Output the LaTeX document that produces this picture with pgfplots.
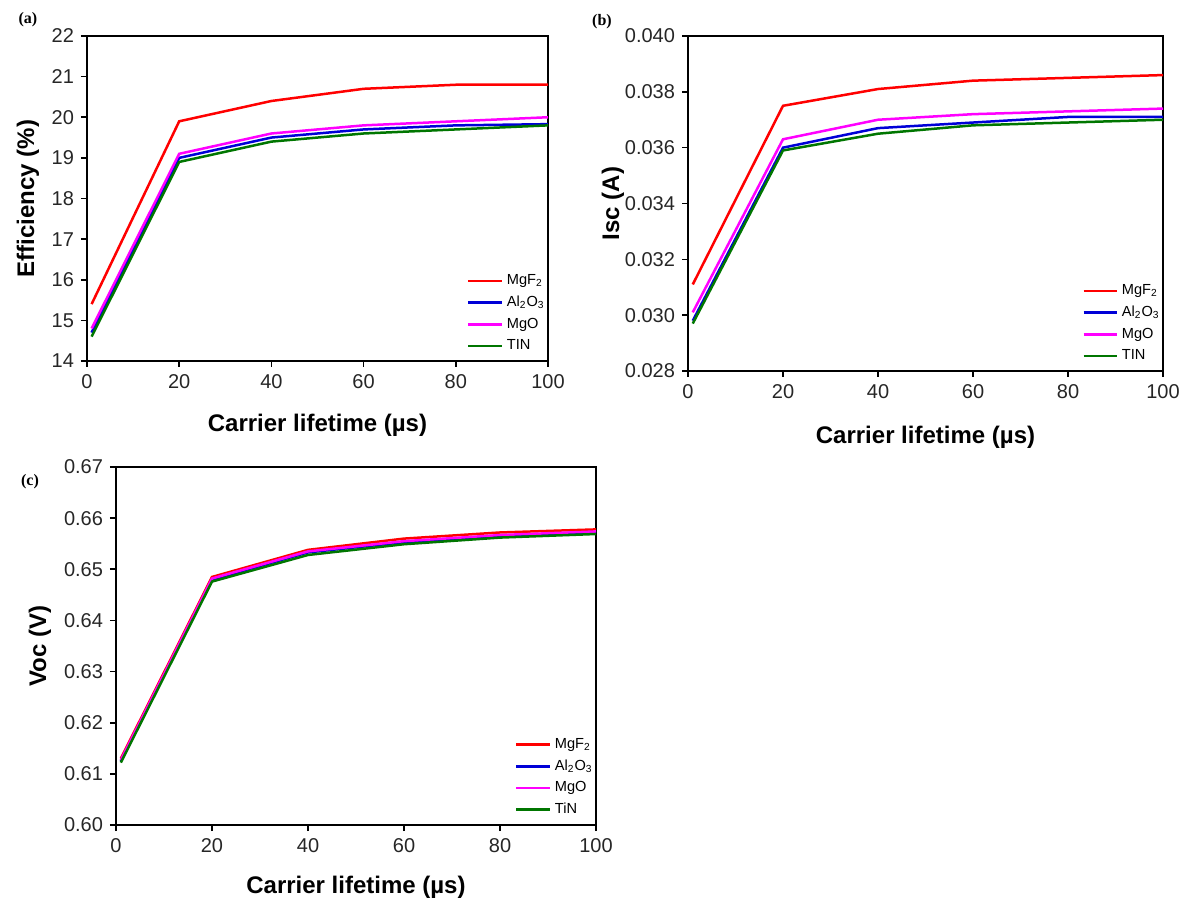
\documentclass[border=0pt]{standalone}
\usepackage{fontspec}
\setmainfont{Liberation Sans}
\newfontfamily\serifbf{Liberation Serif}
\usepackage{pgfplots}
\pgfplotsset{compat=1.18}
\definecolor{cred}{RGB}{255,0,0}
\definecolor{cblue}{RGB}{0,0,215}
\definecolor{cmag}{RGB}{255,0,255}
\definecolor{cgreen}{RGB}{0,118,0}
\pgfplotsset{
  myax/.style={
    scale only axis,
    axis line style={line width=0.9pt},
    tick align=outside, tick pos=left,
    major tick length=3pt,
    every tick/.style={line width=0.8pt, black},
    xmin=0, xmax=100, xtick={0,20,...,100},
    tick label style={font=\fontsize{10}{12}\selectfont, text=black!85},
    /pgf/number format/assume math mode=true,
    label style={font=\fontsize{12}{14}\selectfont\bfseries},
    legend style={draw=none, fill=none, font=\fontsize{7.3}{9}\selectfont,
      at={(1,0)}, anchor=south east, xshift=1.5pt, yshift=1pt,
      row sep=0.2pt, inner sep=1pt},
    legend cell align=left,
    legend image code/.code={\draw[#1, line width=1.4pt] (0cm,0cm) -- (0.58cm,0cm);},
  },
  pl/.style={#1, line width=1.25pt, no marks},
}
\newcommand{\sub}[1]{\textsubscript{#1}}
\begin{document}
\begin{tikzpicture}
% panel (a)
\begin{axis}[myax, at={(43.5pt,272pt)}, anchor=south west,
  width=230.5pt, height=162.5pt,
  ymin=14, ymax=22, ytick={14,15,...,22},
  xlabel={Carrier lifetime (µs)}, ylabel={Efficiency (\%)},
  xlabel style={at={(axis description cs:0.5,0)}, anchor=center, yshift=-32pt},
  ylabel style={at={(axis description cs:0,0.5)}, anchor=center, yshift=29.5pt},
]
\addplot[pl=cred] coordinates {(1,15.4) (20,19.9) (40,20.4) (60,20.7) (80,20.8) (100,20.8)};
\addlegendentry{MgF\sub{2}}
\addplot[pl=cblue] coordinates {(1,14.7) (20,19.0) (40,19.5) (60,19.7) (80,19.8) (100,19.83)};
\addlegendentry{Al\sub{2}O\sub{3}}
\addplot[pl=cmag] coordinates {(1,14.8) (20,19.1) (40,19.6) (60,19.8) (80,19.9) (100,20.0)};
\addlegendentry{MgO}
\addplot[pl=cgreen] coordinates {(1,14.6) (20,18.9) (40,19.4) (60,19.6) (80,19.7) (100,19.8)};
\addlegendentry{TIN}
\end{axis}
% panel (b)
\begin{axis}[myax, at={(344pt,267pt)}, anchor=south west,
  width=237.5pt, height=167.5pt,
  ymin=0.028, ymax=0.040, ytick={0.028,0.030,...,0.0401},
  yticklabel style={/pgf/number format/.cd, fixed, fixed zerofill, precision=3},
  scaled y ticks=false,
  xlabel={Carrier lifetime (µs)}, ylabel={Isc (A)},
  xlabel style={at={(axis description cs:0.5,0)}, anchor=center, yshift=-33pt},
  ylabel style={at={(axis description cs:0,0.5)}, anchor=center, yshift=37.5pt},
]
\addplot[pl=cred] coordinates {(1,0.0311) (20,0.0375) (40,0.0381) (60,0.0384) (80,0.0385) (100,0.0386)};
\addlegendentry{MgF\sub{2}}
\addplot[pl=cblue] coordinates {(1,0.0298) (20,0.0360) (40,0.0367) (60,0.0369) (80,0.0371) (100,0.0371)};
\addlegendentry{Al\sub{2}O\sub{3}}
\addplot[pl=cmag] coordinates {(1,0.0301) (20,0.0363) (40,0.0370) (60,0.0372) (80,0.0373) (100,0.0374)};
\addlegendentry{MgO}
\addplot[pl=cgreen] coordinates {(1,0.0297) (20,0.0359) (40,0.0365) (60,0.0368) (80,0.0369) (100,0.0370)};
\addlegendentry{TIN}
\end{axis}
% panel (c)
\begin{axis}[myax, at={(58pt,40pt)}, anchor=south west,
  width=240pt, height=179pt,
  ymin=0.60, ymax=0.67, ytick={0.60,0.61,...,0.671},
  yticklabel style={/pgf/number format/.cd, fixed, fixed zerofill, precision=2},
  xlabel={Carrier lifetime (µs)}, ylabel={Voc (V)},
  xlabel style={at={(axis description cs:0.5,0)}, anchor=center, yshift=-31pt},
  ylabel style={at={(axis description cs:0,0.5)}, anchor=center, yshift=38pt},
]
\addplot[pl=cred] coordinates {(1,0.6130) (20,0.6485) (40,0.6538) (60,0.6560) (80,0.6572) (100,0.6578)};
\addlegendentry{MgF\sub{2}}
\addplot[pl=cblue] coordinates {(1,0.6125) (20,0.6480) (40,0.6533) (60,0.6553) (80,0.6565) (100,0.6572)};
\addlegendentry{Al\sub{2}O\sub{3}}
\addplot[pl=cmag] coordinates {(1,0.6127) (20,0.6482) (40,0.6535) (60,0.6555) (80,0.6567) (100,0.6574)};
\addlegendentry{MgO}
\addplot[pl=cgreen] coordinates {(1,0.6122) (20,0.6476) (40,0.6528) (60,0.6549) (80,0.6562) (100,0.6569)};
\addlegendentry{TiN}
\end{axis}
\node[font=\serifbf\bfseries\fontsize{8}{9}\selectfont] at (14pt,442.5pt) {(a)};
\node[font=\serifbf\bfseries\fontsize{8}{9}\selectfont] at (301pt,441.5pt) {(b)};
\node[font=\serifbf\bfseries\fontsize{8}{9}\selectfont] at (15pt,211.5pt) {(c)};
\pgfresetboundingbox
\useasboundingbox (0,0) rectangle (590.5pt,452.5pt);
\end{tikzpicture}
\end{document}
